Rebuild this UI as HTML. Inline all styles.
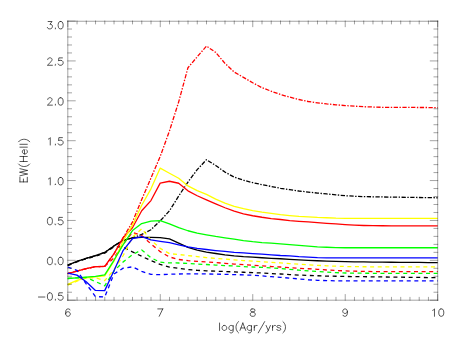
<!DOCTYPE html>
<html><head><meta charset="utf-8"><title>EW(HeII) vs log(Age)</title>
<style>html,body{margin:0;padding:0;background:#fff;font-family:"Liberation Sans",sans-serif;}svg{display:block}</style>
</head><body>
<svg width="458" height="343" viewBox="0 0 458 343">
<rect x="0" y="0" width="458" height="343" fill="#ffffff"/>
<g fill="none" stroke-linejoin="round" stroke-linecap="butt">
<polyline points="67.70,265.08 76.95,261.40 86.20,258.29 95.45,255.66 104.70,252.46 113.95,245.92 123.20,240.33 132.45,237.93 141.70,237.37 150.95,237.45 160.20,237.61 169.45,238.89 178.70,243.04 187.95,247.43 197.20,250.07 206.45,252.14 215.70,253.50 224.95,254.78 234.20,255.82 243.45,256.61 252.70,257.09 261.95,257.73 271.20,258.29 280.45,258.77 289.70,259.33 298.95,259.89 308.20,260.37 317.45,260.76 326.70,261.08 335.95,261.40 345.20,261.60 354.45,261.80 363.70,261.96 372.95,262.12 382.20,262.19 391.45,262.26 400.70,262.33 409.95,262.40 419.20,262.46 428.45,262.53 437.70,262.60" stroke="#000000" stroke-width="1.3"/>
<polyline points="67.70,265.55 76.95,261.88 86.20,258.85 95.45,256.29 104.70,253.10 113.95,246.71 123.20,247.11 132.45,251.90 141.70,256.29 150.95,260.68 160.20,264.44 169.45,267.07 178.70,268.43 187.95,269.63 197.20,270.34 206.45,270.82 215.70,271.22 224.95,271.54 234.20,271.94 243.45,272.26 252.70,272.66 261.95,272.98 271.20,273.54 280.45,274.02 289.70,274.58 298.95,275.05 308.20,275.45 317.45,275.77 326.70,276.09 335.95,276.25 345.20,276.49 354.45,276.60 363.70,276.70 372.95,276.81 382.20,276.94 391.45,277.06 400.70,277.19 409.95,277.31 419.20,277.44 428.45,277.56 437.70,277.69" stroke="#000000" stroke-width="1.3" stroke-dasharray="4.0 3.6"/>
<polyline points="67.70,265.08 76.95,261.40 86.20,258.29 95.45,255.66 104.70,252.46 113.95,245.92 123.20,240.33 132.45,237.93 141.70,234.42 150.95,229.71 160.20,220.93 169.45,210.79 178.70,196.02 187.95,182.05 197.20,169.68 206.45,159.70 215.70,165.45 224.95,172.08 234.20,177.10 243.45,180.22 252.70,182.61 261.95,184.69 271.20,186.44 280.45,188.28 289.70,189.64 298.95,190.99 308.20,192.03 317.45,193.07 326.70,193.95 335.95,194.83 345.20,195.70 354.45,196.26 363.70,196.58 372.95,196.82 382.20,196.96 391.45,197.10 400.70,197.23 409.95,197.37 419.20,197.51 428.45,197.64 437.70,197.78" stroke="#000000" stroke-width="1.3" stroke-dasharray="4.3 1.5 1.4 1.5"/>
<polyline points="67.70,273.70 76.95,271.06 86.20,268.59 95.45,266.67 104.70,266.43 113.95,253.90 123.20,237.69 132.45,227.80 141.70,210.79 150.95,200.57 160.20,183.09 169.45,181.26 178.70,183.25 187.95,190.83 197.20,195.78 206.45,199.94 215.70,203.93 224.95,207.76 234.20,211.19 243.45,213.83 252.70,215.74 261.95,217.26 271.20,218.54 280.45,219.49 289.70,220.53 298.95,221.33 308.20,221.97 317.45,222.69 326.70,223.40 335.95,223.96 345.20,224.60 354.45,225.08 363.70,225.48 372.95,225.72 382.20,225.75 391.45,225.79 400.70,225.82 409.95,225.86 419.20,225.89 428.45,225.93 437.70,225.96" stroke="#ff0000" stroke-width="1.3"/>
<polyline points="67.70,273.70 76.95,271.06 86.20,268.59 95.45,266.67 104.70,266.43 113.95,257.89 123.20,244.32 132.45,232.35 141.70,235.38 150.95,243.92 160.20,251.66 169.45,256.93 178.70,259.49 187.95,260.61 197.20,261.32 206.45,261.88 215.70,262.60 224.95,263.32 234.20,264.04 243.45,264.68 252.70,265.31 261.95,265.79 271.20,266.51 280.45,266.99 289.70,267.71 298.95,268.27 308.20,268.75 317.45,269.31 326.70,270.02 335.95,270.50 345.20,270.90 354.45,271.22 363.70,271.38 372.95,271.54 382.20,271.55 391.45,271.56 400.70,271.58 409.95,271.59 419.20,271.60 428.45,271.61 437.70,271.62" stroke="#ff0000" stroke-width="1.3" stroke-dasharray="4.0 3.6"/>
<polyline points="67.70,273.70 76.95,271.06 86.20,268.59 95.45,266.67 104.70,266.43 113.95,253.90 123.20,237.69 132.45,222.13 141.70,199.54 150.95,178.06 160.20,156.51 169.45,130.96 178.70,101.83 187.95,67.74 197.20,56.80 206.45,46.11 215.70,52.41 224.95,63.35 234.20,72.13 243.45,77.32 252.70,82.75 261.95,87.70 271.20,91.21 280.45,94.48 289.70,97.12 298.95,99.51 308.20,101.51 317.45,102.78 326.70,103.90 335.95,104.78 345.20,105.58 354.45,106.14 363.70,106.70 372.95,107.01 382.20,107.33 391.45,107.37 400.70,107.41 409.95,107.45 419.20,107.49 428.45,107.53 437.70,107.57" stroke="#ff0000" stroke-width="1.3" stroke-dasharray="4.3 1.5 1.4 1.5"/>
<polyline points="67.70,284.39 76.95,280.40 86.20,277.77 95.45,276.81 104.70,275.93 113.95,261.24 123.20,241.01 132.45,225.16 141.70,205.20 150.95,188.84 160.20,168.08 169.45,173.27 178.70,178.22 187.95,185.89 197.20,190.60 206.45,194.43 215.70,199.06 224.95,203.05 234.20,206.32 243.45,208.72 252.70,210.63 261.95,212.23 271.20,213.43 280.45,214.70 289.70,215.58 298.95,216.38 308.20,216.86 317.45,217.42 326.70,217.74 335.95,218.14 345.20,218.30 354.45,218.46 363.70,218.46 372.95,218.46 382.20,218.46 391.45,218.46 400.70,218.46 409.95,218.46 419.20,218.46 428.45,218.46 437.70,218.46" stroke="#ffff00" stroke-width="1.3"/>
<polyline points="67.70,285.11 76.95,281.04 86.20,278.01 95.45,277.77 104.70,280.64 113.95,269.87 123.20,255.50 132.45,237.14 141.70,228.75 150.95,239.93 160.20,248.39 169.45,253.66 178.70,254.54 187.95,255.50 197.20,256.61 206.45,257.57 215.70,258.45 224.95,259.13 234.20,259.81 243.45,260.53 252.70,261.08 261.95,261.64 271.20,262.28 280.45,262.84 289.70,263.56 298.95,264.20 308.20,264.76 317.45,265.31 326.70,265.79 335.95,266.19 345.20,266.51 354.45,266.67 363.70,266.75 372.95,266.83 382.20,266.84 391.45,266.85 400.70,266.87 409.95,266.88 419.20,266.89 428.45,266.90 437.70,266.91" stroke="#ffff00" stroke-width="1.3" stroke-dasharray="4.0 3.6"/>
<polyline points="67.70,278.49 76.95,277.85 86.20,277.05 95.45,276.41 104.70,274.97 113.95,260.29 123.20,244.56 132.45,230.59 141.70,223.56 150.95,221.17 160.20,220.53 169.45,223.88 178.70,227.64 187.95,230.75 197.20,233.06 206.45,234.82 215.70,236.42 224.95,237.77 234.20,239.21 243.45,240.57 252.70,241.69 261.95,242.56 271.20,243.20 280.45,243.92 289.70,244.64 298.95,245.36 308.20,246.08 317.45,246.87 326.70,247.27 335.95,247.59 345.20,247.75 354.45,247.75 363.70,247.75 372.95,247.75 382.20,247.75 391.45,247.75 400.70,247.75 409.95,247.75 419.20,247.75 428.45,247.75 437.70,247.75" stroke="#00ff00" stroke-width="1.3"/>
<polyline points="67.70,278.49 76.95,277.85 86.20,277.45 95.45,281.52 104.70,285.83 113.95,271.06 123.20,261.88 132.45,254.70 141.70,249.91 150.95,257.73 160.20,262.20 169.45,262.92 178.70,263.00 187.95,263.48 197.20,264.04 206.45,264.52 215.70,265.08 224.95,265.63 234.20,265.95 243.45,266.59 252.70,266.99 261.95,267.39 271.20,267.87 280.45,268.59 289.70,269.31 298.95,270.18 308.20,270.90 317.45,271.54 326.70,272.10 335.95,272.66 345.20,272.98 354.45,273.14 363.70,273.22 372.95,273.30 382.20,273.30 391.45,273.30 400.70,273.30 409.95,273.30 419.20,273.30 428.45,273.30 437.70,273.30" stroke="#00ff00" stroke-width="1.3" stroke-dasharray="4.0 3.6"/>
<polyline points="67.70,273.06 76.95,275.13 86.20,281.84 95.45,290.46 104.70,290.62 113.95,270.66 123.20,250.31 132.45,238.73 141.70,236.66 150.95,239.93 160.20,241.29 169.45,242.64 178.70,244.80 187.95,246.87 197.20,248.31 206.45,249.51 215.70,250.55 224.95,251.42 234.20,252.30 243.45,252.86 252.70,253.58 261.95,254.22 271.20,254.78 280.45,255.50 289.70,255.97 298.95,256.69 308.20,257.17 317.45,257.65 326.70,257.89 335.95,257.89 345.20,257.89 354.45,257.89 363.70,257.89 372.95,257.89 382.20,257.89 391.45,257.89 400.70,257.89 409.95,257.89 419.20,257.89 428.45,257.89 437.70,257.89" stroke="#0000ff" stroke-width="1.3"/>
<polyline points="67.70,266.99 76.95,270.34 86.20,283.91 95.45,296.61 104.70,297.01 113.95,274.02 123.20,268.11 132.45,266.83 141.70,271.38 150.95,274.42 160.20,274.65 169.45,274.26 178.70,274.02 187.95,273.86 197.20,273.86 206.45,273.94 215.70,274.10 224.95,274.34 234.20,274.58 243.45,274.89 252.70,275.21 261.95,275.93 271.20,276.65 280.45,277.37 289.70,278.09 298.95,278.97 308.20,279.76 317.45,280.32 326.70,280.64 335.95,280.80 345.20,280.80 354.45,280.80 363.70,280.80 372.95,280.80 382.20,280.80 391.45,280.80 400.70,280.80 409.95,280.80 419.20,280.80 428.45,280.80 437.70,280.80" stroke="#0000ff" stroke-width="1.3" stroke-dasharray="4.0 3.6"/>
</g>
<g fill="none" stroke="#000000" stroke-width="0.72" stroke-opacity="0.5" stroke-linecap="square">
<path d="M67.8,21.25H437.7M67.8,300.2H437.7M67.8,21.25V300.2M437.7,21.25V300.2"/>
<path d="M67.80,300.2v-5.60M67.80,21.05v5.60M77.05,300.2v-2.80M77.05,21.05v2.80M86.30,300.2v-2.80M86.30,21.05v2.80M95.54,300.2v-2.80M95.54,21.05v2.80M104.79,300.2v-2.80M104.79,21.05v2.80M114.04,300.2v-2.80M114.04,21.05v2.80M123.28,300.2v-2.80M123.28,21.05v2.80M132.53,300.2v-2.80M132.53,21.05v2.80M141.78,300.2v-2.80M141.78,21.05v2.80M151.03,300.2v-2.80M151.03,21.05v2.80M160.27,300.2v-5.60M160.27,21.05v5.60M169.52,300.2v-2.80M169.52,21.05v2.80M178.77,300.2v-2.80M178.77,21.05v2.80M188.02,300.2v-2.80M188.02,21.05v2.80M197.27,300.2v-2.80M197.27,21.05v2.80M206.51,300.2v-2.80M206.51,21.05v2.80M215.76,300.2v-2.80M215.76,21.05v2.80M225.01,300.2v-2.80M225.01,21.05v2.80M234.25,300.2v-2.80M234.25,21.05v2.80M243.50,300.2v-2.80M243.50,21.05v2.80M252.75,300.2v-5.60M252.75,21.05v5.60M262.00,300.2v-2.80M262.00,21.05v2.80M271.24,300.2v-2.80M271.24,21.05v2.80M280.49,300.2v-2.80M280.49,21.05v2.80M289.74,300.2v-2.80M289.74,21.05v2.80M298.99,300.2v-2.80M298.99,21.05v2.80M308.23,300.2v-2.80M308.23,21.05v2.80M317.48,300.2v-2.80M317.48,21.05v2.80M326.73,300.2v-2.80M326.73,21.05v2.80M335.98,300.2v-2.80M335.98,21.05v2.80M345.22,300.2v-5.60M345.22,21.05v5.60M354.47,300.2v-2.80M354.47,21.05v2.80M363.72,300.2v-2.80M363.72,21.05v2.80M372.97,300.2v-2.80M372.97,21.05v2.80M382.22,300.2v-2.80M382.22,21.05v2.80M391.46,300.2v-2.80M391.46,21.05v2.80M400.71,300.2v-2.80M400.71,21.05v2.80M409.96,300.2v-2.80M409.96,21.05v2.80M419.21,300.2v-2.80M419.21,21.05v2.80M428.45,300.2v-2.80M428.45,21.05v2.80M437.70,300.2v-5.60M437.70,21.05v5.60M67.8,300.20h7.40M437.7,300.20h-7.40M67.8,292.22h3.70M437.7,292.22h-3.70M67.8,284.25h3.70M437.7,284.25h-3.70M67.8,276.27h3.70M437.7,276.27h-3.70M67.8,268.30h3.70M437.7,268.30h-3.70M67.8,260.32h7.40M437.7,260.32h-7.40M67.8,252.35h3.70M437.7,252.35h-3.70M67.8,244.37h3.70M437.7,244.37h-3.70M67.8,236.39h3.70M437.7,236.39h-3.70M67.8,228.42h3.70M437.7,228.42h-3.70M67.8,220.44h7.40M437.7,220.44h-7.40M67.8,212.47h3.70M437.7,212.47h-3.70M67.8,204.49h3.70M437.7,204.49h-3.70M67.8,196.52h3.70M437.7,196.52h-3.70M67.8,188.54h3.70M437.7,188.54h-3.70M67.8,180.56h7.40M437.7,180.56h-7.40M67.8,172.59h3.70M437.7,172.59h-3.70M67.8,164.61h3.70M437.7,164.61h-3.70M67.8,156.64h3.70M437.7,156.64h-3.70M67.8,148.66h3.70M437.7,148.66h-3.70M67.8,140.69h7.40M437.7,140.69h-7.40M67.8,132.71h3.70M437.7,132.71h-3.70M67.8,124.73h3.70M437.7,124.73h-3.70M67.8,116.76h3.70M437.7,116.76h-3.70M67.8,108.78h3.70M437.7,108.78h-3.70M67.8,100.81h7.40M437.7,100.81h-7.40M67.8,92.83h3.70M437.7,92.83h-3.70M67.8,84.86h3.70M437.7,84.86h-3.70M67.8,76.88h3.70M437.7,76.88h-3.70M67.8,68.90h3.70M437.7,68.90h-3.70M67.8,60.93h7.40M437.7,60.93h-7.40M67.8,52.95h3.70M437.7,52.95h-3.70M67.8,44.98h3.70M437.7,44.98h-3.70M67.8,37.00h3.70M437.7,37.00h-3.70M67.8,29.03h3.70M437.7,29.03h-3.70M67.8,21.05h7.40M437.7,21.05h-7.40"/>
</g>
<path d="M69.95,309.96L69.59,309.26L68.52,308.91L67.80,308.91L66.73,309.26L66.01,310.32L65.65,312.08L65.65,313.84L66.01,315.24L66.73,315.95L67.80,316.30L68.16,316.30L69.23,315.95L69.95,315.24L70.31,314.19L70.31,313.84L69.95,312.78L69.23,312.08L68.16,311.72L67.80,311.72L66.73,312.08L66.01,312.78L65.65,313.84M162.78,308.91L159.20,316.30M157.77,308.91L162.78,308.91M252.03,308.91L250.96,309.26L250.60,309.96L250.60,310.67L250.96,311.37L251.68,311.72L253.11,312.08L254.18,312.43L254.90,313.13L255.26,313.84L255.26,314.89L254.90,315.60L254.54,315.95L253.47,316.30L252.03,316.30L250.96,315.95L250.60,315.60L250.24,314.89L250.24,313.84L250.60,313.13L251.32,312.43L252.39,312.08L253.82,311.72L254.54,311.37L254.90,310.67L254.90,309.96L254.54,309.26L253.47,308.91L252.03,308.91M347.37,311.37L347.01,312.43L346.30,313.13L345.22,313.48L344.87,313.48L343.79,313.13L343.08,312.43L342.72,311.37L342.72,311.02L343.08,309.96L343.79,309.26L344.87,308.91L345.22,308.91L346.30,309.26L347.01,309.96L347.37,311.37L347.37,313.13L347.01,314.89L346.30,315.95L345.22,316.30L344.51,316.30L343.44,315.95L343.08,315.24M432.69,310.32L433.40,309.96L434.48,308.91L434.48,316.30M440.92,308.91L439.85,309.26L439.13,310.32L438.77,312.08L438.77,313.13L439.13,314.89L439.85,315.95L440.92,316.30L441.64,316.30L442.71,315.95L443.43,314.89L443.79,313.13L443.79,312.08L443.43,310.32L442.71,309.26L441.64,308.91L440.92,308.91M38.45,297.03L44.89,297.03M49.55,292.81L48.47,293.16L47.76,294.22L47.40,295.98L47.40,297.03L47.76,298.79L48.47,299.85L49.55,300.20L50.26,300.20L51.34,299.85L52.05,298.79L52.41,297.03L52.41,295.98L52.05,294.22L51.34,293.16L50.26,292.81L49.55,292.81M55.27,299.50L54.92,299.85L55.27,300.20L55.63,299.85L55.27,299.50M62.43,292.81L58.85,292.81L58.50,295.98L58.85,295.62L59.93,295.27L61.00,295.27L62.08,295.62L62.79,296.33L63.15,297.38L63.15,298.09L62.79,299.14L62.08,299.85L61.00,300.20L59.93,300.20L58.85,299.85L58.50,299.50L58.14,298.79M49.55,257.28L48.47,257.63L47.76,258.68L47.40,260.44L47.40,261.50L47.76,263.26L48.47,264.32L49.55,264.67L50.26,264.67L51.34,264.32L52.05,263.26L52.41,261.50L52.41,260.44L52.05,258.68L51.34,257.63L50.26,257.28L49.55,257.28M55.27,263.96L54.92,264.32L55.27,264.67L55.63,264.32L55.27,263.96M60.29,257.28L59.21,257.63L58.50,258.68L58.14,260.44L58.14,261.50L58.50,263.26L59.21,264.32L60.29,264.67L61.00,264.67L62.08,264.32L62.79,263.26L63.15,261.50L63.15,260.44L62.79,258.68L62.08,257.63L61.00,257.28L60.29,257.28M49.55,217.40L48.47,217.75L47.76,218.80L47.40,220.56L47.40,221.62L47.76,223.38L48.47,224.44L49.55,224.79L50.26,224.79L51.34,224.44L52.05,223.38L52.41,221.62L52.41,220.56L52.05,218.80L51.34,217.75L50.26,217.40L49.55,217.40M55.27,224.08L54.92,224.44L55.27,224.79L55.63,224.44L55.27,224.08M62.43,217.40L58.85,217.40L58.50,220.56L58.85,220.21L59.93,219.86L61.00,219.86L62.08,220.21L62.79,220.92L63.15,221.97L63.15,222.68L62.79,223.73L62.08,224.44L61.00,224.79L59.93,224.79L58.85,224.44L58.50,224.08L58.14,223.38M48.47,178.93L49.19,178.57L50.26,177.52L50.26,184.91M55.27,184.21L54.92,184.56L55.27,184.91L55.63,184.56L55.27,184.21M60.29,177.52L59.21,177.87L58.50,178.93L58.14,180.69L58.14,181.74L58.50,183.50L59.21,184.56L60.29,184.91L61.00,184.91L62.08,184.56L62.79,183.50L63.15,181.74L63.15,180.69L62.79,178.93L62.08,177.87L61.00,177.52L60.29,177.52M48.47,139.05L49.19,138.70L50.26,137.64L50.26,145.03M55.27,144.33L54.92,144.68L55.27,145.03L55.63,144.68L55.27,144.33M62.43,137.64L58.85,137.64L58.50,140.81L58.85,140.46L59.93,140.10L61.00,140.10L62.08,140.46L62.79,141.16L63.15,142.22L63.15,142.92L62.79,143.98L62.08,144.68L61.00,145.03L59.93,145.03L58.85,144.68L58.50,144.33L58.14,143.62M47.76,99.52L47.76,99.17L48.11,98.47L48.47,98.11L49.19,97.76L50.62,97.76L51.34,98.11L51.69,98.47L52.05,99.17L52.05,99.87L51.69,100.58L50.98,101.63L47.40,105.15L52.41,105.15M55.27,104.45L54.92,104.80L55.27,105.15L55.63,104.80L55.27,104.45M60.29,97.76L59.21,98.11L58.50,99.17L58.14,100.93L58.14,101.99L58.50,103.75L59.21,104.80L60.29,105.15L61.00,105.15L62.08,104.80L62.79,103.75L63.15,101.99L63.15,100.93L62.79,99.17L62.08,98.11L61.00,97.76L60.29,97.76M47.76,59.64L47.76,59.29L48.11,58.59L48.47,58.23L49.19,57.88L50.62,57.88L51.34,58.23L51.69,58.59L52.05,59.29L52.05,59.99L51.69,60.70L50.98,61.75L47.40,65.27L52.41,65.27M55.27,64.57L54.92,64.92L55.27,65.27L55.63,64.92L55.27,64.57M62.43,57.88L58.85,57.88L58.50,61.05L58.85,60.70L59.93,60.35L61.00,60.35L62.08,60.70L62.79,61.40L63.15,62.46L63.15,63.16L62.79,64.22L62.08,64.92L61.00,65.27L59.93,65.27L58.85,64.92L58.50,64.57L58.14,63.87M48.11,21.50L52.05,21.50L49.90,24.32L50.98,24.32L51.69,24.67L52.05,25.02L52.41,26.08L52.41,26.78L52.05,27.84L51.34,28.54L50.26,28.89L49.19,28.89L48.11,28.54L47.76,28.19L47.40,27.48M55.27,28.19L54.92,28.54L55.27,28.89L55.63,28.54L55.27,28.19M60.29,21.50L59.21,21.85L58.50,22.91L58.14,24.67L58.14,25.72L58.50,27.48L59.21,28.54L60.29,28.89L61.00,28.89L62.08,28.54L62.79,27.48L63.15,25.72L63.15,24.67L62.79,22.91L62.08,21.85L61.00,21.50L60.29,21.50M219.56,323.01L219.56,330.40M223.86,325.47L223.14,325.82L222.43,326.53L222.07,327.58L222.07,328.29L222.43,329.34L223.14,330.05L223.86,330.40L224.93,330.40L225.65,330.05L226.37,329.34L226.72,328.29L226.72,327.58L226.37,326.53L225.65,325.82L224.93,325.47L223.86,325.47M233.17,325.47L233.17,331.10L232.81,332.16L232.45,332.51L231.74,332.86L230.66,332.86L229.95,332.51M233.17,326.53L232.45,325.82L231.74,325.47L230.66,325.47L229.95,325.82L229.23,326.53L228.87,327.58L228.87,328.29L229.23,329.34L229.95,330.05L230.66,330.40L231.74,330.40L232.45,330.05L233.17,329.34M238.54,321.60L237.82,322.30L237.11,323.36L236.39,324.77L236.03,326.53L236.03,327.94L236.39,329.70L237.11,331.10L237.82,332.16L238.54,332.86M242.83,323.01L239.97,330.40M242.83,323.01L245.70,330.40M241.04,327.94L244.62,327.94M251.43,325.47L251.43,331.10L251.07,332.16L250.71,332.51L249.99,332.86L248.92,332.86L248.20,332.51M251.43,326.53L250.71,325.82L249.99,325.47L248.92,325.47L248.20,325.82L247.49,326.53L247.13,327.58L247.13,328.29L247.49,329.34L248.20,330.05L248.92,330.40L249.99,330.40L250.71,330.05L251.43,329.34M254.29,325.47L254.29,330.40M254.29,327.58L254.65,326.53L255.36,325.82L256.08,325.47L257.15,325.47M264.67,321.60L258.23,332.86M266.10,325.47L268.25,330.40M270.40,325.47L268.25,330.40L267.54,331.81L266.82,332.51L266.10,332.86L265.75,332.86M272.55,325.47L272.55,330.40M272.55,327.58L272.91,326.53L273.62,325.82L274.34,325.47L275.41,325.47M280.78,326.53L280.42,325.82L279.35,325.47L278.28,325.47L277.20,325.82L276.84,326.53L277.20,327.23L277.92,327.58L279.71,327.94L280.42,328.29L280.78,328.99L280.78,329.34L280.42,330.05L279.35,330.40L278.28,330.40L277.20,330.05L276.84,329.34M282.93,321.60L283.65,322.30L284.36,323.36L285.08,324.77L285.44,326.53L285.44,327.94L285.08,329.70L284.36,331.10L283.65,332.16L282.93,332.86M19.91,181.90L27.30,181.90M19.91,181.90L19.91,177.25M23.43,181.90L23.43,179.04M27.30,181.90L27.30,177.25M19.91,175.81L27.30,174.03M19.91,172.23L27.30,174.03M19.91,172.23L27.30,170.44M19.91,168.66L27.30,170.44M18.50,164.00L19.20,164.72L20.26,165.43L21.67,166.15L23.43,166.51L24.84,166.51L26.60,166.15L28.00,165.43L29.06,164.72L29.76,164.00M19.91,161.50L27.30,161.50M19.91,156.48L27.30,156.48M23.43,161.50L23.43,156.48M24.48,153.98L24.48,149.68L23.78,149.68L23.08,150.04L22.72,150.40L22.37,151.11L22.37,152.19L22.72,152.90L23.43,153.62L24.48,153.98L25.19,153.98L26.24,153.62L26.95,152.90L27.30,152.19L27.30,151.11L26.95,150.40L26.24,149.68M19.91,147.17L27.30,147.17M19.91,144.31L27.30,144.31M18.50,141.81L19.20,141.09L20.26,140.37L21.67,139.66L23.43,139.30L24.84,139.30L26.60,139.66L28.00,140.37L29.06,141.09L29.76,141.81" fill="none" stroke="#000000" stroke-width="0.75" stroke-opacity="0.88" stroke-linecap="round" stroke-linejoin="round"/>
</svg>
</body></html>
